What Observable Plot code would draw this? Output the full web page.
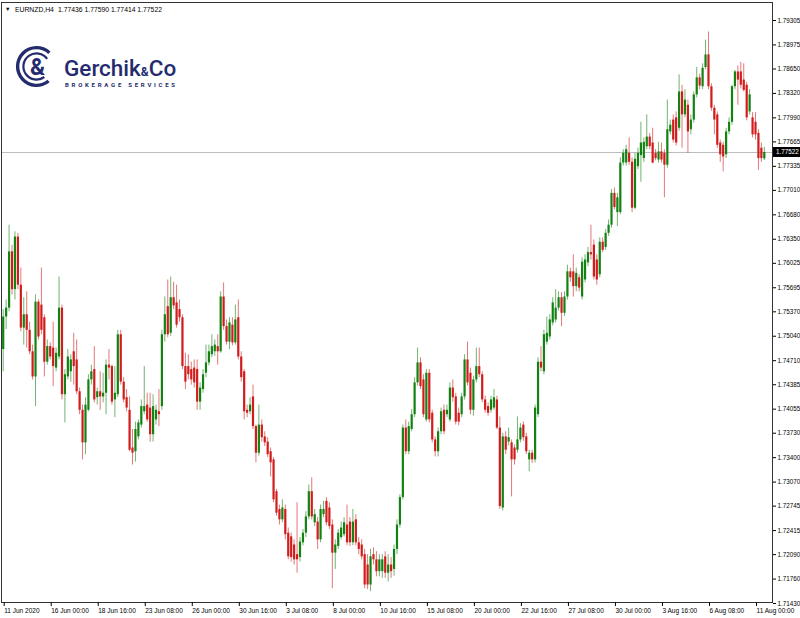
<!DOCTYPE html>
<html><head><meta charset="utf-8">
<script src="https://cdn.jsdelivr.net/npm/d3@7"></script>
<script src="https://cdn.jsdelivr.net/npm/@observablehq/plot@0.6"></script>
<style>
html,body{margin:0;padding:0;background:#fff;}
#chart{width:800px;height:618px;}
</style></head><body><div id="chart"></div>
<script>
const symbol = "EURNZD,H4";

const open = [
1.7486,1.7530,1.7542,1.7618,1.7567,1.7638,1.7573,1.7515,1.7533,1.7512,
1.7483,1.7449,1.7550,1.7546,1.7529,1.7469,1.7490,1.7488,1.7461,1.7476,
1.7542,1.7425,1.7449,1.7456,1.7483,1.7472,1.7429,1.7404,1.7360,1.7404,
1.7445,1.7459,1.7421,1.7429,1.7422,1.7427,1.7465,1.7463,1.7418,1.7425,
1.7506,1.7442,1.7421,1.7404,1.7353,1.7348,1.7368,1.7384,1.7402,1.7411,
1.7407,1.7371,1.7391,1.7402,1.7409,1.7506,1.7544,1.7508,1.7556,1.7549,
1.7540,1.7529,1.7463,1.7463,1.7459,1.7461,1.7459,1.7415,1.7432,1.7454,
1.7468,1.7479,1.7483,1.7490,1.7483,1.7557,1.7517,1.7496,1.7519,1.7495,
1.7529,1.7476,1.7456,1.7404,1.7402,1.7422,1.7382,1.7346,1.7384,1.7368,
1.7361,1.7348,1.7337,1.7294,1.7270,1.7256,1.7270,1.7238,1.7233,1.7222,
1.7209,1.7205,1.7225,1.7238,1.7260,1.7294,1.7252,1.7253,1.7229,1.7263,
1.7281,1.7272,1.7249,1.7211,1.7220,1.7232,1.7236,1.7249,1.7253,1.7225,
1.7256,1.7225,1.7222,1.7209,1.7195,1.7168,1.7209,1.7202,1.7186,1.7186,
1.7206,1.7184,1.7195,1.7189,1.7216,1.7249,1.7286,1.7380,1.7348,1.7378,
1.7398,1.7441,1.7468,1.7445,1.7391,1.7454,1.7400,1.7364,1.7348,1.7375,
1.7404,1.7398,1.7391,1.7434,1.7422,1.7400,1.7398,1.7422,1.7472,1.7454,
1.7404,1.7445,1.7463,1.7452,1.7418,1.7409,1.7404,1.7407,1.7418,1.7380,
1.7272,1.7368,1.7361,1.7360,1.7353,1.7350,1.7364,1.7384,1.7368,1.7337,
1.7346,1.7337,1.7398,1.7469,1.7456,1.7496,1.7503,1.7522,1.7526,1.7542,
1.7556,1.7535,1.7557,1.7591,1.7591,1.7571,1.7583,1.7557,1.7580,1.7603,
1.7617,1.7627,1.7607,1.7587,1.7631,1.7624,1.7643,1.7654,1.7697,1.7671,
1.7671,1.7738,1.7738,1.7751,1.7739,1.7677,1.7733,1.7748,1.7744,1.7760,
1.7773,1.7765,1.7751,1.7742,1.7753,1.7751,1.7735,1.7780,1.7796,1.7799,
1.7785,1.7834,1.7803,1.7816,1.7783,1.7796,1.7830,1.7853,1.7841,1.7867,
1.7884,1.7841,1.7812,1.7803,1.7765,1.7762,1.7749,1.7780,1.7793,1.7841,
1.7861,1.7861,1.7850,1.7843,1.7807,1.7799,1.7793,1.7778,1.7758,1.77436];

const high = [
1.7540,1.7553,1.7654,1.7627,1.7645,1.7643,1.7596,1.7556,1.7564,1.7523,
1.7492,1.7560,1.7553,1.7596,1.7533,1.7499,1.7495,1.7523,1.7488,1.7584,
1.7546,1.7459,1.7486,1.7479,1.7508,1.7499,1.7434,1.7411,1.7421,1.7452,
1.7465,1.7490,1.7434,1.7456,1.7454,1.7472,1.7486,1.7465,1.7463,1.7512,
1.7512,1.7448,1.7432,1.7422,1.7378,1.7388,1.7391,1.7418,1.7463,1.7427,
1.7427,1.7425,1.7411,1.7432,1.7512,1.7557,1.7580,1.7584,1.7577,1.7573,
1.7553,1.7533,1.7481,1.7479,1.7469,1.7472,1.7472,1.7441,1.7459,1.7492,
1.7492,1.7506,1.7499,1.7506,1.7564,1.7576,1.7526,1.7529,1.7529,1.7546,
1.7553,1.7483,1.7459,1.7411,1.7421,1.7438,1.7384,1.7411,1.7391,1.7375,
1.7367,1.7353,1.7340,1.7297,1.7276,1.7283,1.7276,1.7245,1.7238,1.7229,
1.7279,1.7232,1.7243,1.7267,1.7303,1.7313,1.7270,1.7259,1.7276,1.7281,
1.7286,1.7279,1.7256,1.7229,1.7243,1.7253,1.7259,1.7276,1.7259,1.7270,
1.7263,1.7232,1.7229,1.7216,1.7209,1.7216,1.7218,1.7213,1.7209,1.7209,
1.7213,1.7209,1.7205,1.7222,1.7256,1.7290,1.7384,1.7391,1.7388,1.7405,
1.7448,1.7488,1.7475,1.7452,1.7459,1.7459,1.7404,1.7368,1.7380,1.7407,
1.7411,1.7411,1.7441,1.7445,1.7427,1.7407,1.7427,1.7479,1.7496,1.7461,
1.7450,1.7488,1.7488,1.7456,1.7423,1.7414,1.7423,1.7432,1.7423,1.7395,
1.7373,1.7375,1.7380,1.7364,1.7357,1.7395,1.7386,1.7388,1.7373,1.7350,
1.7350,1.7411,1.7475,1.7490,1.7512,1.7530,1.7533,1.7556,1.7567,1.7564,
1.7563,1.7564,1.7600,1.7596,1.7614,1.7596,1.7587,1.7610,1.7614,1.7624,
1.7654,1.7634,1.7614,1.7637,1.7637,1.7648,1.7661,1.7702,1.7704,1.7697,
1.7745,1.7756,1.7762,1.7772,1.7745,1.7751,1.7758,1.7793,1.7772,1.7803,
1.7778,1.7785,1.7756,1.7766,1.7765,1.7756,1.7823,1.7796,1.7803,1.7807,
1.7857,1.7843,1.7837,1.7823,1.7803,1.7834,1.7867,1.7858,1.7872,1.7904,
1.7915,1.7845,1.7816,1.7807,1.7769,1.7766,1.7785,1.7799,1.7843,1.7863,
1.7869,1.7874,1.7872,1.7847,1.7837,1.7806,1.7806,1.7783,1.7765,1.77590];

const low = [
1.7456,1.7513,1.7537,1.7560,1.7553,1.7567,1.7510,1.7492,1.7488,1.7479,
1.7445,1.7409,1.7499,1.7506,1.7449,1.7465,1.7472,1.7436,1.7456,1.7472,
1.7418,1.7387,1.7445,1.7442,1.7438,1.7425,1.7398,1.7337,1.7344,1.7402,
1.7438,1.7414,1.7411,1.7404,1.7414,1.7398,1.7445,1.7411,1.7394,1.7421,
1.7438,1.7414,1.7402,1.7348,1.7330,1.7334,1.7364,1.7380,1.7398,1.7388,
1.7361,1.7361,1.7384,1.7382,1.7404,1.7496,1.7502,1.7504,1.7540,1.7515,
1.7523,1.7459,1.7432,1.7445,1.7438,1.7434,1.7404,1.7404,1.7427,1.7448,
1.7464,1.7475,1.7477,1.7465,1.7481,1.7512,1.7492,1.7486,1.7491,1.7492,
1.7472,1.7442,1.7391,1.7394,1.7398,1.7378,1.7333,1.7342,1.7361,1.7355,
1.7340,1.7314,1.7279,1.7261,1.7249,1.7252,1.7229,1.7202,1.7199,1.7195,
1.7184,1.7199,1.7221,1.7232,1.7256,1.7256,1.7247,1.7216,1.7225,1.7259,
1.7248,1.7243,1.7163,1.7189,1.7216,1.7229,1.7233,1.7221,1.7220,1.7221,
1.7221,1.7209,1.7202,1.7163,1.7162,1.7159,1.7195,1.7179,1.7179,1.7177,
1.7177,1.7172,1.7177,1.7180,1.7209,1.7245,1.7283,1.7344,1.7344,1.7375,
1.7394,1.7437,1.7432,1.7394,1.7388,1.7387,1.7360,1.7341,1.7341,1.7371,
1.7371,1.7394,1.7388,1.7415,1.7384,1.7383,1.7394,1.7418,1.7437,1.7398,
1.7396,1.7441,1.7448,1.7414,1.7400,1.7396,1.7400,1.7404,1.7378,1.7270,
1.7268,1.7344,1.7356,1.7287,1.7330,1.7346,1.7360,1.7362,1.7344,1.7321,
1.7332,1.7333,1.7394,1.7456,1.7452,1.7492,1.7499,1.7518,1.7522,1.7538,
1.7517,1.7531,1.7553,1.7577,1.7557,1.7564,1.7564,1.7553,1.7576,1.7598,
1.7607,1.7580,1.7573,1.7583,1.7617,1.7620,1.7639,1.7650,1.7675,1.7652,
1.7668,1.7734,1.7734,1.7735,1.7671,1.7675,1.7729,1.7712,1.7739,1.7756,
1.7756,1.7737,1.7741,1.7738,1.7738,1.7691,1.7731,1.7776,1.7765,1.7761,
1.7781,1.7758,1.7799,1.7751,1.7776,1.7792,1.7826,1.7837,1.7837,1.7864,
1.7837,1.7808,1.7776,1.7758,1.7739,1.7726,1.7744,1.7776,1.7789,1.7837,
1.7816,1.7838,1.7834,1.7795,1.7803,1.7772,1.7769,1.7728,1.7739,1.77414];

const close = [
1.7530,1.7542,1.7618,1.7567,1.7638,1.7573,1.7515,1.7533,1.7512,1.7483,
1.7449,1.7550,1.7503,1.7512,1.7469,1.7490,1.7476,1.7463,1.7481,1.7542,
1.7425,1.7452,1.7476,1.7472,1.7463,1.7429,1.7404,1.7360,1.7411,1.7445,
1.7456,1.7418,1.7429,1.7422,1.7427,1.7465,1.7461,1.7415,1.7427,1.7506,
1.7442,1.7418,1.7407,1.7350,1.7346,1.7378,1.7387,1.7409,1.7409,1.7391,
1.7371,1.7409,1.7404,1.7398,1.7506,1.7533,1.7506,1.7556,1.7545,1.7519,
1.7529,1.7463,1.7442,1.7452,1.7445,1.7441,1.7415,1.7434,1.7452,1.7468,
1.7483,1.7490,1.7492,1.7483,1.7557,1.7517,1.7496,1.7522,1.7495,1.7526,
1.7476,1.7448,1.7402,1.7400,1.7411,1.7382,1.7346,1.7384,1.7367,1.7360,
1.7344,1.7333,1.7283,1.7265,1.7256,1.7272,1.7236,1.7206,1.7205,1.7202,
1.7202,1.7226,1.7238,1.7260,1.7294,1.7260,1.7263,1.7229,1.7270,1.7270,
1.7252,1.7247,1.7211,1.7222,1.7238,1.7245,1.7252,1.7225,1.7225,1.7253,
1.7225,1.7216,1.7206,1.7168,1.7168,1.7206,1.7202,1.7186,1.7202,1.7202,
1.7184,1.7195,1.7186,1.7216,1.7249,1.7286,1.7380,1.7348,1.7382,1.7398,
1.7441,1.7468,1.7436,1.7398,1.7454,1.7391,1.7364,1.7348,1.7375,1.7402,
1.7375,1.7404,1.7434,1.7421,1.7388,1.7388,1.7422,1.7472,1.7441,1.7404,
1.7445,1.7463,1.7452,1.7418,1.7404,1.7400,1.7418,1.7421,1.7380,1.7274,
1.7368,1.7350,1.7367,1.7337,1.7337,1.7364,1.7380,1.7367,1.7348,1.7346,
1.7337,1.7407,1.7469,1.7461,1.7506,1.7508,1.7526,1.7549,1.7542,1.7556,
1.7535,1.7557,1.7591,1.7583,1.7571,1.7589,1.7569,1.7604,1.7607,1.7617,
1.7614,1.7584,1.7580,1.7631,1.7620,1.7643,1.7654,1.7697,1.7678,1.7691,
1.7738,1.7751,1.7756,1.7739,1.7677,1.7743,1.7751,1.7765,1.7766,1.7773,
1.7760,1.7738,1.7744,1.7753,1.7742,1.7735,1.7783,1.7789,1.7769,1.7765,
1.7834,1.7803,1.7823,1.7780,1.7796,1.7830,1.7853,1.7842,1.7866,1.7884,
1.7841,1.7812,1.7796,1.7762,1.7749,1.7746,1.7780,1.7793,1.7841,1.7861,
1.7850,1.7843,1.7836,1.7799,1.7830,1.7776,1.7776,1.7744,1.7744,1.77522];

const tickIndex = [0,16,32,48,64,80,96,112,128,144,160,176,192,208,224,240,256];
const tickLabels = ["11 Jun 2020","16 Jun 00:00","18 Jun 16:00","23 Jun 08:00","26 Jun 00:00",
  "30 Jun 16:00","3 Jul 08:00","8 Jul 00:00","10 Jul 16:00","15 Jul 08:00","20 Jul 00:00",
  "22 Jul 16:00","27 Jul 08:00","30 Jul 00:00","3 Aug 16:00","6 Aug 08:00","11 Aug 00:00"];
const priceTicks = [1.79305,1.78975,1.78650,1.78320,1.77990,1.77665,1.77335,1.77010,1.76680,
  1.76350,1.76025,1.75695,1.75370,1.75040,1.74710,1.74385,1.74055,1.73730,1.73400,1.73070,
  1.72745,1.72415,1.72090,1.71760,1.71430];

const upColor = "#138213", downColor = "#d21c1c", navy = "#242b6e";
const FONT = "'Liberation Sans', 'DejaVu Sans', Arial, sans-serif";
const LOGOFONT = "Roboto, 'Open Sans', sans-serif";

const bars = open.map((o, i) => ({i, open: o, high: high[i], low: low[i], close: close[i]}));
const up = bars.filter(d => d.close >= d.open);
const down = bars.filter(d => d.close < d.open);
const last = bars[bars.length - 1];
const fmt = v => v.toFixed(5);

function logoMark() {
  const g = d3.create("svg:g").attr("text-anchor", "start");
  const cx = 36.5, cy = 66.5;
  const arc = d3.arc();
  g.append("path").attr("transform", `translate(${cx},${cy})`)
    .attr("d", arc({innerRadius: 17.2, outerRadius: 20.6, startAngle: 2.45, endAngle: 0.75 + 2 * Math.PI}))
    .attr("fill", navy);
  g.append("path").attr("transform", `translate(${cx},${cy})`)
    .attr("d", arc({innerRadius: 12.0, outerRadius: 14.2, startAngle: 2.5, endAngle: 0.95 + 2 * Math.PI}))
    .attr("fill", navy);
  g.append("text").attr("x", cx + 1).attr("y", cy + 8).attr("text-anchor", "middle")
    .attr("font-family", LOGOFONT).attr("font-weight", 700)
    .attr("font-size", 23).attr("fill", navy).attr("stroke", "#fff").attr("stroke-width", 1.2)
    .attr("paint-order", "stroke").text("&");
  const t = g.append("text").attr("x", 64).attr("y", 75.5).attr("text-anchor", "start")
    .attr("font-family", LOGOFONT).attr("font-weight", 500)
    .attr("font-size", 22.5).attr("fill", navy);
  t.append("tspan").text("Gerchik");
  t.append("tspan").attr("font-size", 12).attr("font-weight", 700).text("&");
  t.append("tspan").text("Co");
  g.append("text").attr("x", 65).attr("y", 86.5).attr("text-anchor", "start")
    .attr("font-family", LOGOFONT).attr("font-weight", 700)
    .attr("font-size", 6).attr("letter-spacing", 2.75).attr("fill", navy)
    .text("BROKERAGE SERVICES");
  return g.node();
}

function headerMark() {
  const g = d3.create("svg:g").attr("font-family", FONT).attr("font-size", 6.8)
    .attr("fill", "#000").attr("text-anchor", "start");
  g.append("text").attr("x", 5).attr("y", 11).attr("font-size", 5.5).text("\u25BC");
  g.append("text").attr("x", 15).attr("y", 11.5).text(symbol);
  g.append("text").attr("x", 58).attr("y", 11.5)
    .text([last.open, last.high, last.low, last.close].map(fmt).join(" "));
  return g.node();
}

function priceLabelMark(index, scales, values, dims) {
  const g = d3.create("svg:g").attr("text-anchor", "start");
  const yy = scales.y(last.close);
  const x0 = dims.width - dims.marginRight;
  g.append("rect").attr("x", x0 + 1).attr("y", yy - 5).attr("width", dims.marginRight - 1)
    .attr("height", 10).attr("fill", "#000");
  g.append("text").attr("x", x0 + 4).attr("y", yy).attr("dy", "0.35em")
    .attr("font-family", FONT).attr("font-size", 6.3).attr("fill", "#fff").text(fmt(last.close));
  return g.node();
}

const chart = Plot.plot({
  width: 800,
  height: 618,
  marginLeft: 1,
  marginRight: 28,
  marginTop: 2,
  marginBottom: 16,
  style: {fontFamily: FONT, fontSize: "6.3px", background: "#fff", color: "#000"},
  x: {domain: [0, 256], range: [2.7, 755]},
  y: {domain: [1.71430, 1.79305], range: [603, 20]},
  marks: [
    Plot.ruleY([last.close], {stroke: "#bdbdbd", strokeWidth: 1}),
    Plot.ruleX(up, {x: "i", y1: "low", y2: "high", stroke: upColor, strokeOpacity: 0.6, strokeWidth: 1}),
    Plot.ruleX(down, {x: "i", y1: "low", y2: "high", stroke: downColor, strokeOpacity: 0.6, strokeWidth: 1}),
    Plot.ruleX(up, {x: "i", y1: "open", y2: "close", stroke: upColor, strokeWidth: 2.2}),
    Plot.ruleX(down, {x: "i", y1: "open", y2: "close", stroke: downColor, strokeWidth: 2.2}),
    Plot.frame({stroke: "#333"}),
    Plot.axisY(priceTicks, {anchor: "right", tickSize: 3, tickPadding: 2, tickFormat: fmt, label: null, fontSize: 6.3}),
    Plot.axisX(tickIndex, {anchor: "bottom", tickSize: 4, tickPadding: 2, label: null, fontSize: 6.5,
      textAnchor: "start", dx: 1, tickFormat: d => tickLabels[tickIndex.indexOf(d)]}),
    headerMark,
    logoMark,
    priceLabelMark
  ]
});
document.getElementById("chart").append(chart);
</script>
</body></html>
